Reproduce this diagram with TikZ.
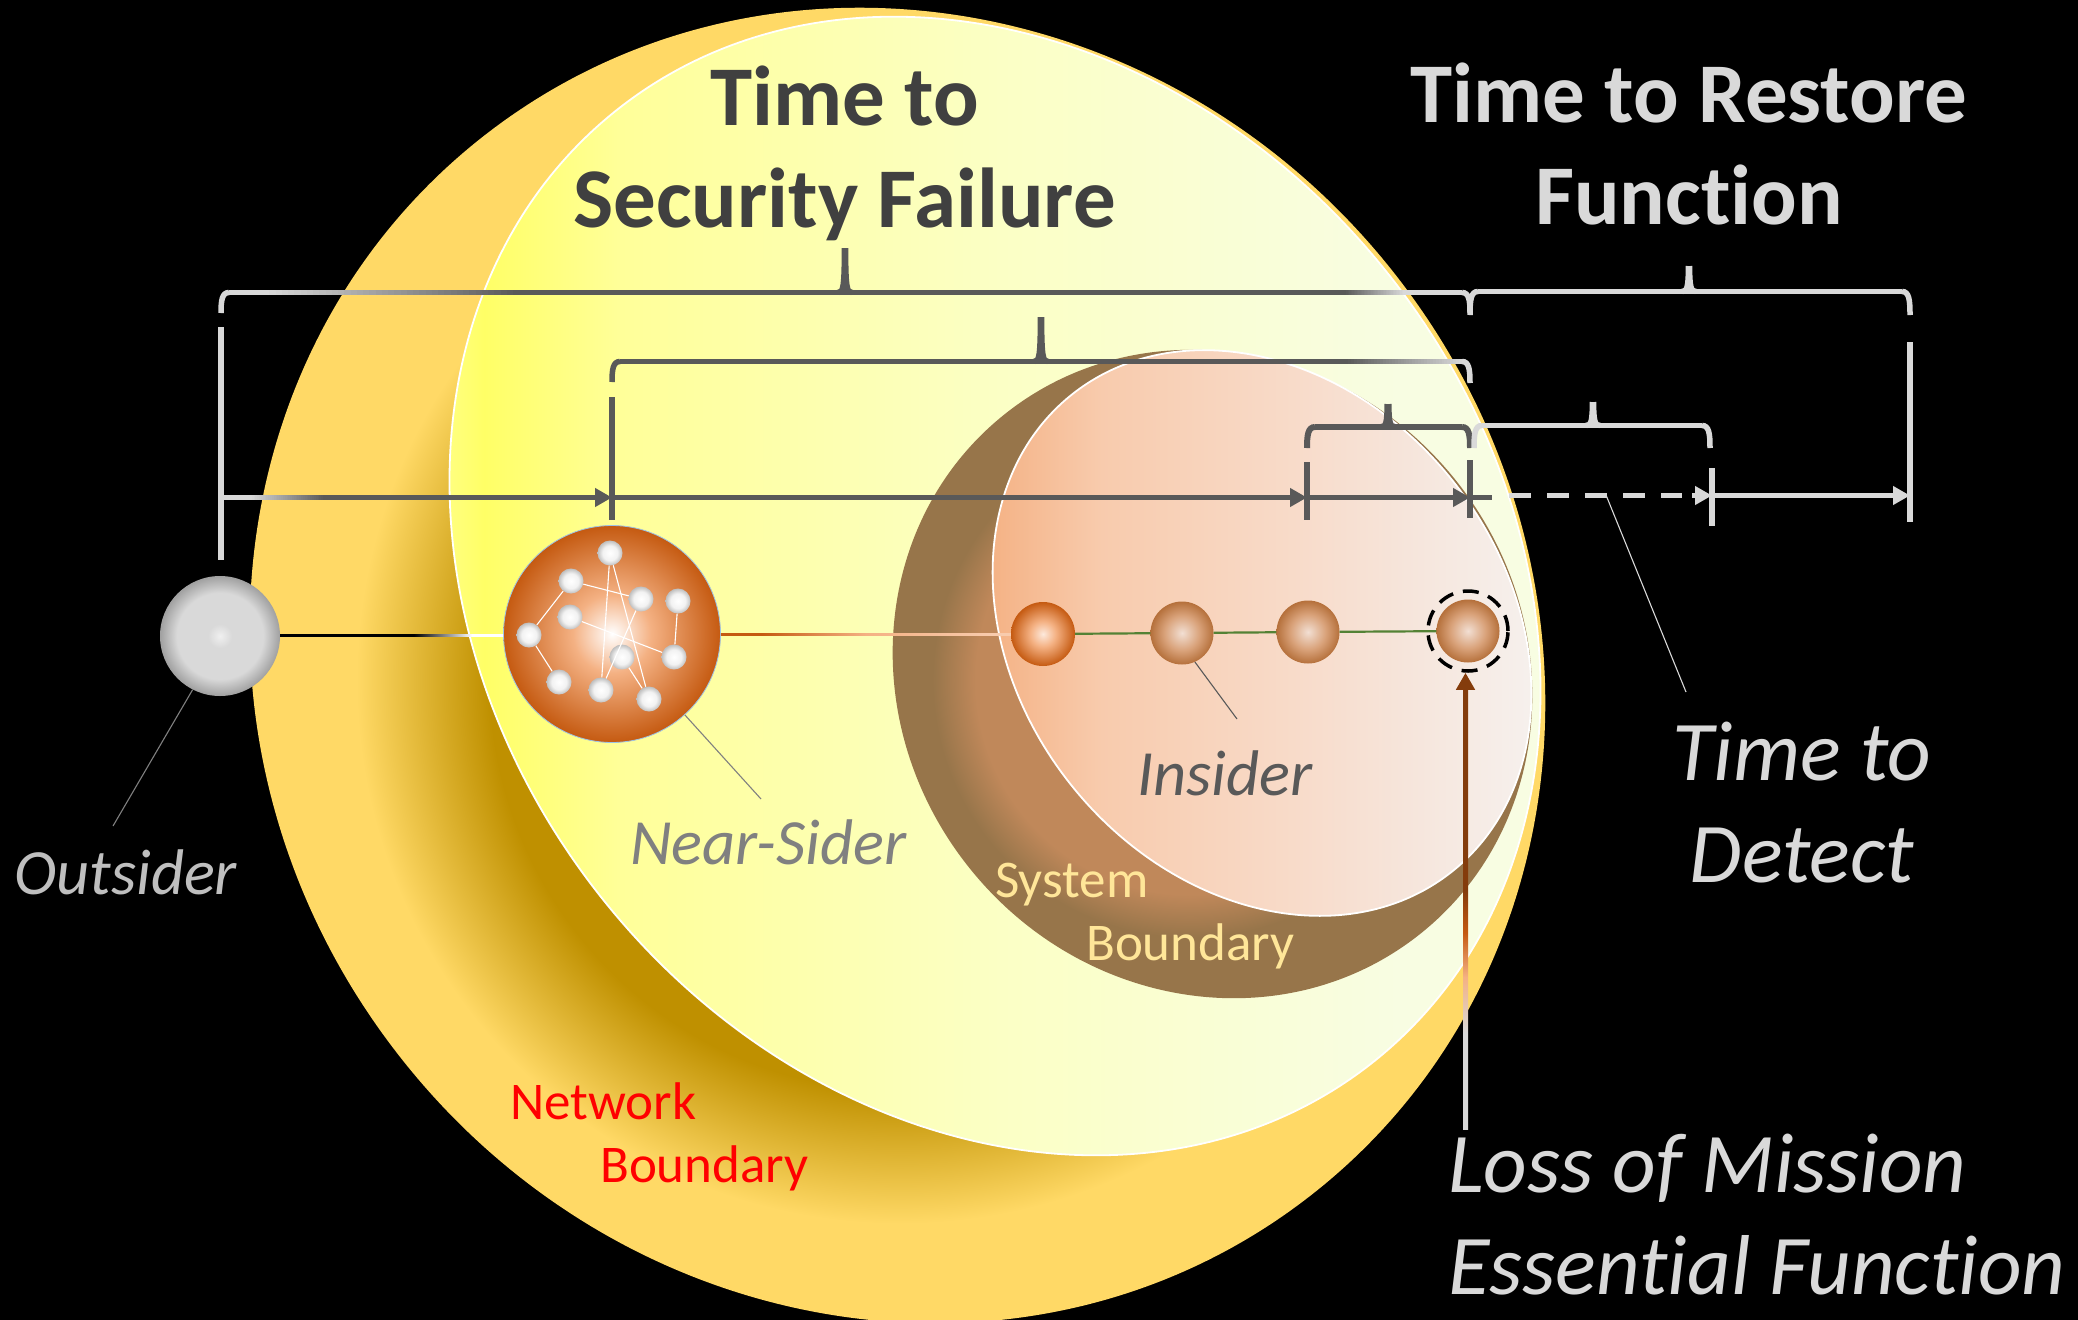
\documentclass[tikz,border=0pt]{standalone}
\usepackage{fontspec}
\setmainfont[Ligatures=NoCommon]{Carlito}
\usetikzlibrary{arrows.meta,calc}
\definecolor{dk}{HTML}{595959}
\definecolor{lt}{HTML}{D9D9D9}
\definecolor{goldD}{HTML}{BF9000}
\definecolor{goldL}{HTML}{FFD966}
\definecolor{brnD}{HTML}{97754A}
\definecolor{brnL}{HTML}{C0885A}
\definecolor{yA}{HTML}{FFFF85}
\definecolor{yB}{HTML}{FFFF66}
\definecolor{yC}{HTML}{FFFF99}
\definecolor{yD}{HTML}{FBFFC5}
\definecolor{yE}{HTML}{F8FDE2}
\definecolor{pA}{HTML}{F4B183}
\definecolor{pB}{HTML}{F8CBAD}
\definecolor{pC}{HTML}{F8DCCB}
\definecolor{pD}{HTML}{F6E5DB}
\definecolor{pE}{HTML}{F6F1EE}
\definecolor{rust}{HTML}{C55A11}
\definecolor{rustD}{HTML}{843C0C}
\definecolor{tanE}{HTML}{B5703B}
\definecolor{tanM}{HTML}{D9A27A}
\definecolor{tanC}{HTML}{F2DFD3}
\definecolor{grE}{HTML}{A0A0A0}
\definecolor{grC}{HTML}{F0F0F0}
\definecolor{whE}{HTML}{BFBFBF}
\definecolor{whM}{HTML}{F2F2F2}
\definecolor{pale}{HTML}{FDE9DC}
\definecolor{skyline}{HTML}{9DC3E6}
\definecolor{grn}{HTML}{548235}
\definecolor{ttl}{HTML}{404040}
\definecolor{sysT}{HTML}{FFE699}
\pgfdeclareradialshading{goldsh}{\pgfpoint{0bp}{0bp}}{color(0bp)=(goldD); color(11.4bp)=(goldD); color(15.1bp)=(goldL); color(25bp)=(goldL); color(50bp)=(goldL)}
\pgfdeclareradialshading{brnsh}{\pgfpoint{0bp}{0bp}}{color(0bp)=(brnL); color(13.4bp)=(brnL); color(16.1bp)=(brnD); color(25bp)=(brnD); color(50bp)=(brnD)}
\pgfdeclarehorizontalshading{yelsh}{100bp}{color(0bp)=(yA); color(25bp)=(yA); color(27bp)=(yB); color(33.2bp)=(yC); color(50.5bp)=(yD); color(68.6bp)=(yE); color(75bp)=(yE); color(100bp)=(yE)}
\pgfdeclarehorizontalshading{peachsh}{100bp}{color(0bp)=(pA); color(25bp)=(pA); color(35.5bp)=(pB); color(53.9bp)=(pC); color(63bp)=(pD); color(75bp)=(pE); color(100bp)=(pE)}
\pgfdeclareradialshading{ballgray}{\pgfpoint{0bp}{0bp}}{color(0bp)=(grC); color(5bp)=(lt); color(18bp)=(lt); color(25bp)=(grE); color(50bp)=(grE)}
\pgfdeclareradialshading{ballnear}{\pgfpoint{0bp}{0bp}}{color(0bp)=(white); color(9bp)=(pA); color(25bp)=(rust); color(50bp)=(rust)}
\pgfdeclareradialshading{ballfirst}{\pgfpoint{0bp}{0bp}}{color(0bp)=(pale); color(10bp)=(pA); color(25bp)=(rust); color(50bp)=(rust)}
\pgfdeclareradialshading{balltan}{\pgfpoint{0bp}{0bp}}{color(0bp)=(tanC); color(14bp)=(tanM); color(25bp)=(tanE); color(50bp)=(tanE)}
\pgfdeclareradialshading{ballwhite}{\pgfpoint{0bp}{0bp}}{color(0bp)=(white); color(15bp)=(whM); color(25bp)=(whE); color(50bp)=(whE)}
\pgfdeclarehorizontalshading{blackfade}{100bp}{color(0bp)=(black); color(55bp)=(black); color(68bp)=(white); color(100bp)=(white)}
\pgfdeclarehorizontalshading{rustfade}{100bp}{color(0bp)=(rust); color(32bp)=(rust); color(50bp)=(pA); color(72bp)=(pB); color(100bp)=(pB)}
\pgfdeclareverticalshading{brownfade}{100bp}{color(0bp)=(lt); color(35.8bp)=(lt); color(42.1bp)=(pA); color(47.1bp)=(rust); color(51.9bp)=(rustD); color(100bp)=(rustD)}
\tikzset{
  ellipseedge/.style={draw=white,line width=1.8pt},
  ball/.style={circle,inner sep=0pt,minimum size=#1},
  netball/.style={ball=25pt,shade,shading=ballwhite},
  netlink/.style={draw=white,line width=1.1pt},
  tick/.style={line width=5.5pt},
  tickdark/.style={tick,draw=dk},
  ticklight/.style={tick,draw=lt},
  shaft/.style={line width=5.5pt},
  arrowtip/.style={-{Triangle[length=17pt,width=18pt]}},
  leader/.style={line width=1.1pt},
  title/.style={font=\fontsize{85}{102}\selectfont\bfseries,align=center,inner sep=0pt},
  bigital/.style={font=\fontsize{85}{102}\selectfont\itshape,inner sep=0pt,text=lt},
  role/.style={font=\fontsize{64.5}{72}\selectfont\itshape,inner sep=0pt,anchor=base west},
  bound/.style={font=\fontsize{53}{63}\selectfont,inner sep=0pt,align=left},
}
\newcommand{\BrL}[5][5.5pt]{\draw[#5,line width=#1] (#2,#4) .. controls (#2,#3+8) and (#2+1,#3) .. (#2+8,#3);}
\newcommand{\BrR}[5][5.5pt]{\draw[#5,line width=#1] (#2,#4) .. controls (#2,#3+8) and (#2-1,#3) .. (#2-8,#3);}
\newcommand{\BrT}[5][5.5pt]{\draw[#5,line width=#1] (#2-7,#3) .. controls (#2-2,#3) and (#2-.6,#3-4) .. (#2-.6,#4);\draw[#5,line width=#1] (#2+7,#3) .. controls (#2+2,#3) and (#2+.6,#3-4) .. (#2+.6,#4);}
% horizontal stroke that fades from colour 5 to colour 6
\newcommand{\fadeH}[6]{\foreach \k in {0,...,39}{%
  \pgfmathsetmacro{\xa}{#1+(#2-#1)*\k/40}%
  \pgfmathsetmacro{\xb}{#1+(#2-#1)*(\k+1)/40+.6}%
  \pgfmathsetmacro{\mixp}{100-\k*2.5}%
  \draw[line width=#4,color=#5!\mixp!#6] (\xa,#3) -- (\xb,#3);}}
\begin{document}
\begin{tikzpicture}[x=1pt,y=-1pt]
\fill[black] (0,0) rectangle (2078,1320);
\useasboundingbox (0,0) rectangle (2078,1320);
% network boundary
\begin{scope}
  \clip (897.5,665.5) ellipse [x radius=672,y radius=633,rotate=-52.4];
  \shade[shading=goldsh] (900,680) circle [radius=900];
\end{scope}
% yellow
\begin{scope}
  \clip (995,586) ellipse [x radius=608,y radius=502,rotate=-51.5];
  \shade[shading=yelsh] (440,0) rectangle (1540,1320);
\end{scope}
\draw[ellipseedge] (995,586) ellipse [x radius=608,y radius=502,rotate=-51.5];
% system boundary
\begin{scope}
  \clip (1212.5,674) ellipse [x radius=332.7,y radius=311,rotate=-50.8];
  \shade[shading=brnsh] (1190,680) circle [radius=400];
\end{scope}
% peach
\begin{scope}
  \clip (1262,633) ellipse [x radius=305,y radius=244,rotate=-51.4];
  \shade[shading=peachsh] (985,300) rectangle (1540,950);
\end{scope}
\draw[ellipseedge] (1262,633) ellipse [x radius=305,y radius=244,rotate=-51.4];

% actors
\node[ball=120pt,shade,shading=ballgray] (outsider) at (220,636) {};
\node[ball=217pt,shade,shading=ballnear,draw=skyline,line width=.8pt] (near) at (612,634) {};
\node[ball=64pt,shade,shading=ballfirst] (b1) at (1043,634) {};
\node[ball=63pt,shade,shading=balltan] (b2) at (1182,633) {};
\node[ball=63pt,shade,shading=balltan] (b3) at (1308,632) {};
\node[ball=63pt,shade,shading=balltan] (b4) at (1468,631) {};
\node[circle,inner sep=0pt,minimum size=80pt,draw=black,line width=3.5pt,dash pattern=on 16pt off 10pt] (mef) at (b4) {};

% near-sider network
\node[netball] (n1) at (610,553) {};
\node[netball] (n2) at (571,581) {};
\node[netball] (n3) at (641,599) {};
\node[netball] (n4) at (678,601) {};
\node[netball] (n5) at (570,617) {};
\node[netball] (n6) at (529,635) {};
\node[netball] (n7) at (622,657) {};
\node[netball] (n8) at (674,657) {};
\node[netball] (n9) at (559,682) {};
\node[netball] (n10) at (601,690) {};
\node[netball] (n11) at (649,699) {};
\foreach \a/\b in {n6/n2,n6/n9,n2/n3,n5/n8,n1/n10,n1/n11,n3/n10,n4/n8,n7/n11}
  \draw[netlink] (\a) -- (\b);

% horizontal chain
\shade[shading=blackfade] ($(outsider.east)+(0,-2)$) rectangle ($(near.west)+(0,2)$);
\shade[shading=rustfade] ($(near.east)+(0,-1)$) rectangle ($(b1.west)+(0,1)$);
\draw[grn,line width=2.2pt] (b1) -- (b2);
\draw[grn,line width=2.2pt] (b2) -- (b3);
\draw[grn,line width=2.2pt] (b3) -- (b4);

% timeline coordinates
\coordinate (t0) at (221,497.5);
\coordinate (t1) at (612,497.5);
\coordinate (t2) at (1307,497.5);
\coordinate (t3) at (1470,497.5);
\coordinate (t4) at (1712,495.5);
\coordinate (t5) at (1910,495.5);

% timeline ticks
\draw[ticklight] (221,327) -- (221,560);
\draw[tickdark] (612,397) -- (612,520);
\draw[tickdark] (1307,462) -- (1307,520);
\draw[tickdark] (1470,460) -- (1470,518);
\draw[ticklight] (1712,468) -- (1712,526);
\draw[ticklight] (1910,342) -- (1910,522);

% timeline arrows
\draw[shaft,lt] (t0) -- (250,497.5);
\fadeH{250}{323}{497.5}{5.5pt}{lt}{dk}
\draw[shaft,dk,arrowtip] (323,497.5) -- (t1);
\draw[shaft,dk,arrowtip] (t1) -- (t2);
\draw[shaft,dk,arrowtip] (t2) -- (t3);
\draw[shaft,dk] (t3) -- (1492,497.5);
\draw[shaft,lt,dash pattern=on 21.5pt off 16.5pt] (1509,495.5) -- (1682,495.5);
\draw[shaft,lt,arrowtip] (1692,495.5) -- (t4);
\draw[shaft,lt,arrowtip] (t4) -- (t5);

% brace: time to security failure
\BrL{221}{292.5}{313}{lt}
\draw[shaft,lt] (229,292.5) -- (263,292.5);
\fadeH{263}{513}{292.5}{5.5pt}{lt}{dk}
\draw[shaft,dk] (513,292.5) -- (1345,292.5);
\fadeH{1345}{1403}{292.5}{5.5pt}{dk}{lt}
\draw[shaft,lt] (1403,292.5) -- (1462,292.5);
\BrR{1470}{292.5}{313}{lt}
\BrT{845}{292.5}{248}{dk}
% brace: near-sider
\BrL{612}{361.5}{382}{dk}
\draw[shaft,dk] (620,361.5) -- (1345,361.5);
\fadeH{1345}{1462}{361.5}{5.5pt}{dk}{lt}
\BrR{1470}{361.5}{383}{lt}
\BrT{1041}{361.5}{317}{dk}
% brace: insider
\BrL[6pt]{1307}{427}{448}{dk}
\draw[dk,line width=6pt] (1315,427) -- (1462,427);
\BrR[6pt]{1470}{427}{448}{dk}
\BrT[6pt]{1388}{427}{404}{dk}
% brace: time to detect
\BrL{1474}{425.5}{448}{lt}
\draw[shaft,lt] (1482,425.5) -- (1702,425.5);
\BrR{1710}{425.5}{448}{lt}
\BrT{1593}{425.5}{402}{lt}
% brace: time to restore
\BrL{1470}{291.5}{315}{lt}
\draw[shaft,lt] (1478,291.5) -- (1902,291.5);
\BrR{1910}{291.5}{315}{lt}
\BrT{1689}{291.5}{266}{lt}

% loss arrow
\shade[shading=brownfade] (1463,685) rectangle (1468,1129);
\coordinate (lossbase) at (1465.5,685);
\draw[rustD,shaft,arrowtip] (lossbase) -- (lossbase |- mef.south);

% text
\node[title,text=ttl,anchor=north] (ttsf) at (844.5,66) {Time to\\Security Failure};
\node[title,text=lt,anchor=north] (ttrf) at (1689,63) {Time to Restore\\Function};
\node[bigital,align=center,anchor=north] (ttd) at (1802,722) {Time to\\Detect};
\node[bigital,align=left,anchor=north west] (loss) at (1448,1134) {Loss of Mission\\Essential Function};
\node[role,text=whE] (lblout) at (14,894) {Outsider};
\node[role,text=black!50] (lblnear) at (630,864) {Near-Sider};
\node[role,text=dk] (lblin) at (1137,795) {Insider};
\node[bound,text=sysT,anchor=north west] (lblsys) at (995,863) {System\\\hspace*{91pt}Boundary};
\node[bound,text=red,anchor=north west] (lblnet) at (510,1082) {Network\\\hspace*{90pt}Boundary};

% leaders
\coordinate (endout) at (113,826);
\coordinate (endnear) at (761,799);
\coordinate (endin) at (1237,719);
\coordinate (enddet) at (1686,692);
\coordinate (startdet) at (1606,495);
\draw[leader,black!50] (outsider.243) -- (endout);
\draw[leader,black!50] (near.312) -- (endnear);
\draw[leader,dk] (b2.294) -- (endin);
\draw[leader,lt] (startdet) -- (enddet);
\end{tikzpicture}
\end{document}
